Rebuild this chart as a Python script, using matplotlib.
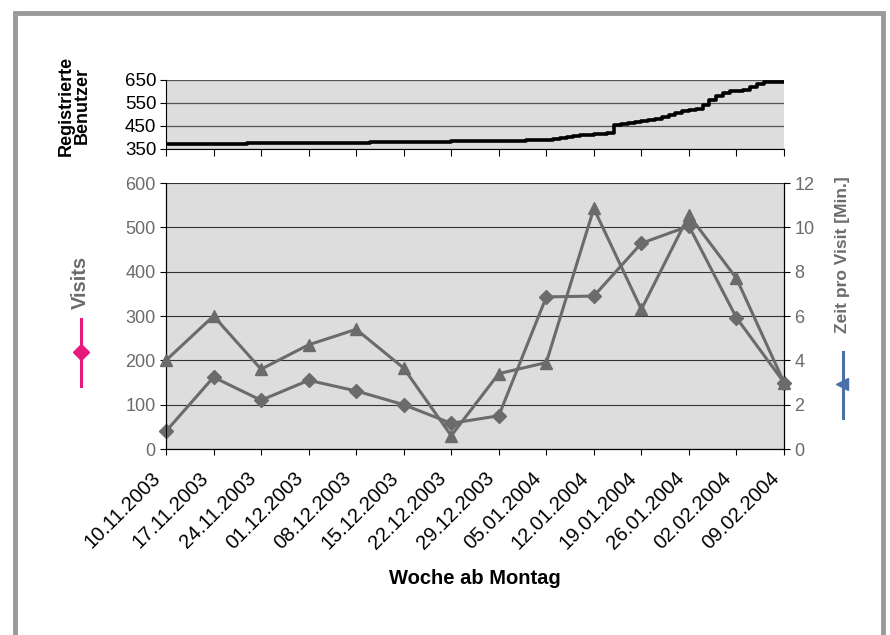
import matplotlib.pyplot as plt
import matplotlib.transforms as mtransforms
from matplotlib.lines import Line2D
from matplotlib.patches import Rectangle

plt.rcParams['font.family'] = ['Liberation Sans', 'DejaVu Sans']

weeks = ["10.11.2003", "17.11.2003", "24.11.2003", "01.12.2003", "08.12.2003",
         "15.12.2003", "22.12.2003", "29.12.2003", "05.01.2004", "12.01.2004",
         "19.01.2004", "26.01.2004", "02.02.2004", "09.02.2004"]
visits = [40, 162, 110, 155, 131, 100, 58, 75, 343, 345, 464, 503, 296, 150]
minutes = [4.0, 6.0, 3.6, 4.7, 5.4, 3.65, 0.6, 3.4, 3.9, 10.85, 6.3, 10.55, 7.7, 3.0]

# registered users, day offset from 10.11.2003 -> count (step line)
user_days = [0, 3, 6, 9, 12, 15, 18, 22, 26, 30, 34, 38, 42, 46, 50, 53, 55, 57,
             58, 59, 60, 61, 63, 65, 66, 67, 68, 69, 70, 71, 72, 73, 74, 75, 76,
             77, 78, 79, 80, 81, 82, 83, 84, 85, 86, 87, 88, 91]
user_counts = [370, 371, 372, 373, 374, 375, 376, 377, 378, 379, 380, 382, 384,
               385, 386, 388, 390, 393, 397, 402, 407, 412, 415, 420, 455, 460,
               463, 467, 472, 476, 480, 490, 497, 505, 515, 520, 525, 540, 565,
               580, 595, 600, 602, 608, 618, 632, 640, 640]

grey = '#6b6b6b'
bg = '#dddddd'

fig = plt.figure(figsize=(8.9, 6.35), dpi=100)
fig.patches.append(Rectangle((15 / 890, -0.05), 868 / 890, 1.05 - 13 / 635,
                             transform=fig.transFigure, fill=False,
                             edgecolor='#9a9a9a', lw=3.5))

# top panel
ax0 = fig.add_axes([0.1865, 0.7654, 0.6944, 0.1087])
ax0.set_facecolor(bg)
ax0.step(user_days, user_counts, where='post', color='black', lw=2.6)
ax0.set_xlim(0, 91)
ax0.set_ylim(350, 650)
ax0.set_yticks([350, 450, 550, 650])
ax0.set_xticks(range(0, 92, 7))
ax0.set_xticklabels([])
ax0.yaxis.grid(True, color='#555555', lw=0.9)
ax0.set_axisbelow(True)
ax0.tick_params(axis='y', labelsize=13.5, length=4, pad=3, colors='black')
ax0.tick_params(axis='x', length=5)
for s in ['top', 'right']:
    ax0.spines[s].set_visible(False)
fig.text(74 / 890, 1 - 106 / 635, "Registrierte\nBenutzer", rotation=90,
         fontsize=13, fontweight='bold', linespacing=0.95,
         ha='center', va='center', multialignment='center')

# main panel
ax = fig.add_axes([0.1865, 0.2929, 0.6944, 0.4189])
ax.set_facecolor(bg)
x = range(len(weeks))
ax.plot(x, visits, color=grey, lw=2.2, marker='D', ms=7, clip_on=False, zorder=3)
ax.set_xlim(0, 13)
ax.set_ylim(0, 600)
ax.set_yticks(range(0, 601, 100))
ax.yaxis.grid(True, color='#333333', lw=0.8)
ax.set_axisbelow(True)
ax.set_xticks(list(x))
ax.tick_params(axis='y', labelsize=13, labelcolor=grey, length=4)
ax.tick_params(axis='x', length=4, pad=15)
ax.set_xticklabels(weeks, rotation=45, ha='right', va='center',
                   rotation_mode='anchor', fontsize=14.5)
shift = mtransforms.ScaledTranslation(-8 / 100, 0, fig.dpi_scale_trans)
for lab in ax.get_xticklabels():
    lab.set_transform(lab.get_transform() + shift)
ax.spines['top'].set_visible(False)
fig.text(475 / 890, 1 - 578 / 635, "Woche ab Montag", fontsize=14.5,
         fontweight='bold', ha='center', va='center')

ax2 = ax.twinx()
ax2.plot(x, minutes, color=grey, lw=2.2, marker='^', ms=9, clip_on=False, zorder=3)
ax2.set_ylim(0, 12)
ax2.set_yticks(range(0, 13, 2))
ax2.tick_params(axis='y', labelsize=13, labelcolor=grey, length=4)
ax2.spines['top'].set_visible(False)

# axis labels with legend keys
fig.text(80 / 890, 1 - 282 / 635, "Visits", rotation=90, fontsize=14.5,
         fontweight='bold', color=grey, ha='center', va='center')
fig.add_artist(Line2D([81 / 890, 81 / 890], [1 - 319 / 635, 1 - 386 / 635],
                      transform=fig.transFigure, color='#e6197d', lw=2.2))
fig.add_artist(Line2D([81 / 890], [1 - 352 / 635], transform=fig.transFigure,
                      color='#e6197d', marker='D', ms=8, ls='none'))
fig.text(843 / 890, 1 - 255 / 635, "Zeit pro Visit [Min.]", rotation=90,
         fontsize=12.5, fontweight='bold', color=grey, ha='center', va='center')
fig.add_artist(Line2D([843 / 890, 843 / 890], [1 - 352 / 635, 1 - 418 / 635],
                      transform=fig.transFigure, color='#4a70a8', lw=2.2))
fig.add_artist(Line2D([842 / 890], [1 - 384 / 635], transform=fig.transFigure,
                      color='#4a70a8', marker='<', ms=8, ls='none'))

fig.savefig("out.png", dpi=100)
